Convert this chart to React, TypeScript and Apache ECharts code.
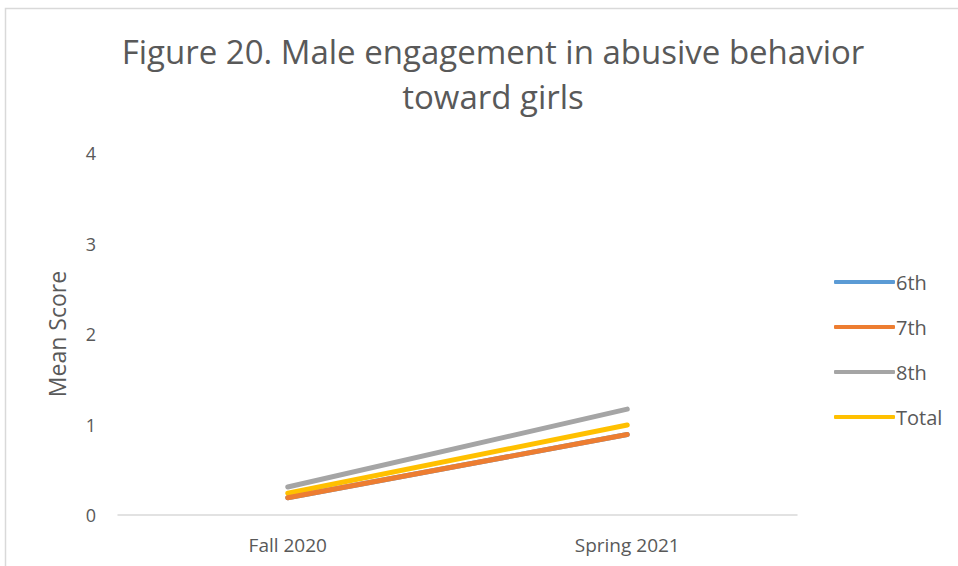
import React, { useEffect, useRef } from "react";
import * as echarts from "echarts";

const categories = ["Fall 2020", "Spring 2021"];
const seriesNames = ["6th", "7th", "8th", "Total"];
const sixth = [0.19, 0.89];
const seventh = [0.19, 0.89];
const eighth = [0.31, 1.17];
const total = [0.24, 0.995];
const colors = ["#5b9bd5", "#ed7d31", "#a5a5a5", "#ffc000"];
const yTicks = [0, 1, 2, 3, 4];

export default function App() {
  const ref = useRef<HTMLDivElement>(null);
  useEffect(() => {
    if (!ref.current) return;
    const chart = echarts.init(ref.current, undefined, { renderer: "svg" });
    const data = [sixth, seventh, eighth, total];
    const font = "'Open Sans', 'Noto Sans', sans-serif";
    chart.setOption({
      animation: false,
      backgroundColor: "#ffffff",
      textStyle: { fontFamily: font },
      title: {
        text: "Figure 20. Male engagement in abusive behavior\ntoward girls",
        left: 488,
        textAlign: "center",
        top: 24,
        textStyle: {
          fontFamily: font,
          fontSize: 33,
          fontWeight: "normal",
          color: "#595959",
          lineHeight: 45,
        },
      },
      graphic: [
        {
          type: "rect",
          shape: { x: 5.5, y: 8.5, width: 1000, height: 700 },
          style: { fill: "none", stroke: "#d9d9d9", lineWidth: 1.5 },
          silent: true,
        },
      ],
      legend: {
        orient: "vertical",
        left: 829,
        top: 266,
        itemWidth: 61,
        itemHeight: 4,
        itemGap: 23,
        icon: "roundRect",
        data: seriesNames,
        textStyle: { fontFamily: font, fontSize: 20, lineHeight: 22, color: "#595959", padding: [0, 0, 0, -4] },
      },
      grid: { left: 118, right: 161, top: 153, bottom: 51 },
      xAxis: {
        type: "category",
        data: categories,
        boundaryGap: true,
        axisLine: { lineStyle: { color: "#d9d9d9", width: 1.5 } },
        axisTick: { show: false },
        axisLabel: { fontFamily: font, fontSize: 19, color: "#595959", margin: 20 },
      },
      yAxis: {
        type: "value",
        min: yTicks[0],
        max: yTicks[yTicks.length - 1],
        interval: 1,
        name: "Mean Score",
        nameLocation: "middle",
        nameGap: 50,
        nameTextStyle: { fontFamily: font, fontSize: 23, color: "#595959" },
        axisLine: { show: false },
        axisTick: { show: false },
        splitLine: { show: false },
        axisLabel: { fontFamily: font, fontSize: 18, color: "#595959", margin: 22 },
      },
      series: seriesNames.map((name, i) => ({
        name,
        type: "line",
        data: data[i],
        symbol: "none",
        lineStyle: { width: 5, color: colors[i], cap: "round" },
        itemStyle: { color: colors[i] },
        z: i === 1 ? 3 : 2,
      })),
    });
    return () => chart.dispose();
  }, []);
  return (
    <div
      ref={ref}
      style={{ position: "fixed", left: 0, top: 0, width: 958, height: 566 }}
    />
  );
}
